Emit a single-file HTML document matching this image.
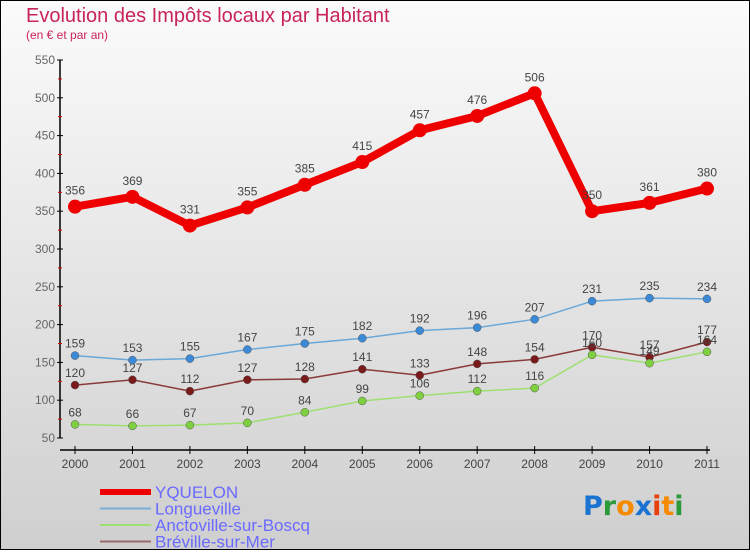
<!DOCTYPE html>
<html><head><meta charset="utf-8"><style>
html,body{margin:0;padding:0}
body{width:750px;height:550px;overflow:hidden;font-family:"Liberation Sans","DejaVu Sans",sans-serif}
</style></head><body>
<svg id="c" width="750" height="550" xmlns="http://www.w3.org/2000/svg">
<defs><linearGradient id="bg" x1="0" y1="0" x2="0" y2="1"><stop offset="0" stop-color="#fbfbfb"/><stop offset="1" stop-color="#cfcfcf"/></linearGradient></defs>
<rect x="0.5" y="0.5" width="749" height="549" fill="url(#bg)" stroke="#000"/>
<text x="26" y="22" font-size="20" fill="#c8235a">Evolution des Impôts locaux par Habitant</text>
<text x="26" y="39" font-size="12" fill="#c8235a">(en € et par an)</text>
<g id="axes"></g><g id="series"></g>
<g id="legend"></g>
<text x="583" y="515" font-size="27" font-weight="bold" font-family="'DejaVu Sans',sans-serif"><tspan fill="#1a73d0">P</tspan><tspan fill="#2a9a3a">r</tspan><tspan fill="#f58a00">o</tspan><tspan fill="#1a73d0">x</tspan><tspan fill="#e8400a">i</tspan><tspan fill="#f58a00">t</tspan><tspan fill="#2a9a3a">i</tspan></text>
</svg>
<script>
const years=["2000","2001","2002","2003","2004","2005","2006","2007","2008","2009","2010","2011"];
const yTicks=[50,100,150,200,250,300,350,400,450,500,550];
const yquelon=[356,369,331,355,385,415,457,476,506,350,361,380];
const longueville=[159,153,155,167,175,182,192,196,207,231,235,234];
const anctoville=[68,66,67,70,84,99,106,112,116,160,149,164];
const breville=[120,127,112,127,128,141,133,148,154,170,157,177];
const NS="http://www.w3.org/2000/svg";
function X(i){return 75+i*(707-75)/11;}
function Y(v){return 438-(v-50)*(438-60)/500;}
function mk(t,a,p){const e=document.createElementNS(NS,t);for(const k in a)e.setAttribute(k,a[k]);p.appendChild(e);return e;}
const ax=document.getElementById('axes');
mk('line',{x1:60,y1:60,x2:60,y2:438,stroke:'#000','stroke-width':1.5},ax);
mk('line',{x1:60,y1:450,x2:710,y2:450,stroke:'#000','stroke-width':1.5},ax);
yTicks.forEach((v,i)=>{
 mk('line',{x1:57,y1:Y(v),x2:63,y2:Y(v),stroke:'#000'},ax);
 if(i<yTicks.length-1) mk('line',{x1:58,y1:Y(v+25),x2:62,y2:Y(v+25),stroke:'#d00'},ax);
 const t=mk('text',{x:55,y:Y(v)+4,'text-anchor':'end','font-size':12,fill:'#666'},ax);t.textContent=v;
 
 
});
years.forEach((y,i)=>{
 mk('line',{x1:X(i),y1:446,x2:X(i),y2:454,stroke:'#000'},ax);
 const t=mk('text',{x:X(i),y:468,'text-anchor':'middle','font-size':12,fill:'#444'},ax);t.textContent=y;
 
 
});
const sg=document.getElementById('series');
const series=[
 {name:'breville',data:breville,c:'#7a1a1a',lc:'#8a3a3a',w:1.5,r:4},
 {name:'anctoville',data:anctoville,c:'#7fd040',lc:'#9ee070',w:1.5,r:4},
 {name:'longueville',data:longueville,c:'#3a8ad8',lc:'#6aa8d8',w:1.5,r:4},
 {name:'yquelon',data:yquelon,c:'#ee0000',lc:'#ee0000',w:8,r:7}];
series.forEach(s=>{
 const g=mk('g',{},sg);
 
 
 const pts=s.data.map((v,i)=>X(i)+','+Y(v)).join(' ');
 mk('polyline',{points:pts,fill:'none',stroke:s.lc,'stroke-width':s.w,'stroke-linejoin':'round'},g);
 s.data.forEach((v,i)=>{
  const c=mk('circle',{cx:X(i),cy:Y(v),r:s.r,fill:s.c,stroke:s.w>2?'none':'#555','stroke-width':0.5},g);
  
  
  const t=mk('text',{x:X(i),y:Y(v)-(s.w>2?12:8),'text-anchor':'middle','font-size':12,fill:'#444'},g);t.textContent=v;
  
  
 });
});
const lg=document.getElementById('legend');
const leg=[['YQUELON','#ee0000',6],['Longueville','#7aaed8',2],['Anctoville-sur-Boscq','#9ee070',2],['Bréville-sur-Mer','#9a6a6a',2]];
leg.forEach((l,i)=>{
 const y=492+i*16.5;
 mk('line',{x1:100,y1:y,x2:151,y2:y,stroke:l[1],'stroke-width':l[2]},lg);
 const t=mk('text',{x:155,y:y+6,'font-size':17,fill:'#6a6aff'},lg);t.textContent=l[0];
 
 
});
</script>
</body></html>
